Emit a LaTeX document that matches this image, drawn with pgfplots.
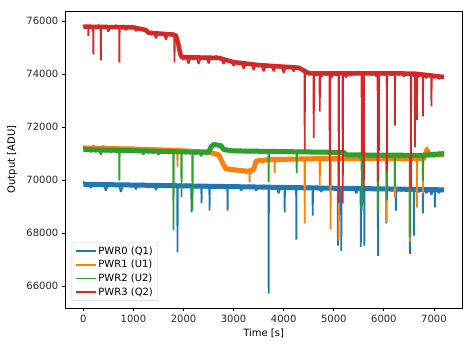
\documentclass[border=0pt]{standalone}
\usepackage{pgfplots}
\usepackage{pgfplotstable}
\usepackage{fontspec}
\setmainfont{DejaVu Sans}
\pgfplotsset{compat=1.18}
\definecolor{C0}{HTML}{1F77B4}
\definecolor{C1}{HTML}{FF7F0E}
\definecolor{C2}{HTML}{2CA02C}
\definecolor{C3}{HTML}{D62728}

% level (core band) of each series
\pgfplotstableread{
x y
0 69840
1000 69810
2000 69780
3000 69750
4000 69720
5000 69690
6000 69665
7200 69630
}\lvlzero
\pgfplotstableread{
x y
0 71210
1000 71170
1800 71120
2500 71050
2700 70960
2780 70650
2850 70420
3300 70330
3400 70400
3450 70720
3700 70770
5000 70820
6800 70810
6830 71000
6860 71150
6900 70950
7200 70950
}\lvlone
\pgfplotstableread{
x y
0 71150
1000 71110
2000 71060
2500 71050
2550 71250
2600 71340
2750 71300
2800 71150
3000 71100
5200 71040
5250 70950
6800 70930
7200 71000
}\lvltwo
\pgfplotstableread{
x y
0 75790
1000 75760
1250 75660
1300 75560
1800 75490
1850 75450
1900 75100
1930 74800
1960 74640
2700 74610
3000 74450
3500 74340
4300 74240
4450 74080
4500 74030
6600 74020
7200 73890
}\lvlthree

\pgfplotstableread{
x y
0 69950
50 69780
100 69900
150 69700
200 69880
250 69760
300 69910
350 69780
400 69890
450 69600
500 69880
550 69760
600 69900
650 69750
700 69880
750 69550
800 69870
850 69760
900 69880
950 69740
1000 69860
1050 69650
1100 69870
1150 69750
1200 69880
1250 69720
1300 69850
1350 69740
1400 69870
1450 69620
1500 69860
1550 69740
1600 69850
1650 69720
1700 69860
1750 69730
1800 69840
1850 69730
1875 69800
1880 67270
1885 69780
1900 69750
1950 69840
2000 69700
2050 69850
2100 69720
2155 69800
2160 68780
2165 69750
2200 69840
2250 69700
2300 69830
2355 69750
2360 69120
2365 69760
2400 69820
2450 69700
2515 69780
2520 68850
2525 69750
2550 69820
2600 69710
2650 69830
2700 69700
2750 69820
2800 69690
2850 69810
2875 69740
2880 68850
2885 69760
2900 69820
2950 69700
3000 69800
3050 69690
3100 69810
3150 69600
3200 69800
3250 69700
3300 69810
3350 69680
3400 69800
3450 69600
3500 69790
3550 69690
3600 69800
3650 69690
3695 69760
3700 65710
3705 69760
3750 69780
3800 69680
3850 69790
3900 69500
3950 69780
4015 69700
4020 68780
4025 69700
4050 69770
4100 69660
4150 69780
4200 69650
4248 69750
4253 67750
4258 69750
4300 69770
4350 69660
4400 69760
4450 69640
4500 69770
4575 69700
4580 68660
4585 69700
4600 69750
4650 69650
4700 69760
4750 69550
4800 69750
4850 69640
4900 69760
4950 69620
5000 69750
5050 69640
5078 69720
5083 67520
5088 69720
5100 69740
5145 69700
5150 67330
5155 69700
5200 69740
5250 69630
5300 69740
5350 69620
5400 69740
5450 69500
5500 69730
5535 69700
5540 67480
5545 69700
5580 69720
5605 69700
5610 67520
5615 69700
5650 69720
5700 69620
5750 69730
5800 69600
5850 69720
5878 69680
5883 67140
5888 69680
5920 69710
5950 69600
6000 69720
6045 69650
6050 68360
6055 69650
6100 69700
6150 69590
6200 69710
6235 69650
6240 68850
6245 69650
6300 69700
6350 69580
6400 69700
6450 69560
6500 69700
6515 69650
6520 67215
6525 69650
6550 69690
6595 69650
6600 67900
6605 69650
6650 69690
6700 69550
6775 69640
6780 68740
6785 69640
6800 69690
6850 69500
6900 69680
6950 69450
7000 69680
7015 69600
7020 68970
7025 69600
7050 69670
7100 69500
7150 69680
7200 69600
}\pwrzero

\pgfplotstableread{
x y
0 71300
50 71150
100 71280
150 71160
200 71320
250 71150
300 71270
350 71140
400 71300
450 71150
500 71260
550 71140
600 71280
650 71130
700 71260
750 71120
800 71250
850 71130
900 71240
950 71120
1000 71250
1050 71100
1100 71230
1150 71100
1200 71220
1250 71090
1300 71230
1350 71080
1400 71200
1450 71080
1500 71220
1550 71070
1600 71190
1650 71060
1700 71200
1750 71050
1800 71180
1850 71050
1875 71150
1880 70490
1885 71100
1900 71150
1950 71040
2000 71170
2050 71030
2100 71160
2150 71020
2200 71150
2250 71000
2300 71140
2350 71000
2400 71130
2450 70990
2500 71100
2550 70980
2600 71050
2650 70900
2700 71000
2750 70880
2780 70600
2800 70450
2850 70350
2900 70500
2950 70320
3000 70450
3050 70300
3100 70420
3150 70280
3200 70400
3250 70250
3300 70380
3315 70300
3320 69920
3325 70350
3350 70250
3400 70400
3430 70600
3450 70780
3500 70650
3550 70800
3600 70680
3650 70820
3700 70700
3750 70830
3800 70720
3815 70800
3820 70260
3825 70780
3850 70840
3900 70700
3950 70850
4000 70720
4050 70850
4100 70730
4150 70860
4200 70740
4250 70860
4300 70750
4350 70870
4400 70760
4415 70850
4420 68360
4425 70800
4450 70870
4500 70740
4550 70870
4600 70750
4650 70880
4700 70760
4715 70850
4720 69800
4725 70800
4750 70880
4800 70760
4850 70890
4900 70770
4930 70850
4935 68130
4940 70800
4950 70880
5000 70770
5050 70890
5095 70800
5100 67710
5105 70820
5150 70880
5200 70760
5250 70890
5300 70770
5350 70880
5400 70750
5450 70870
5500 70760
5550 70880
5600 70750
5650 70870
5700 70760
5750 70880
5800 70750
5850 70860
5900 70740
5950 70870
6000 70760
6045 70850
6050 68420
6055 70800
6100 70870
6150 70750
6215 70860
6220 69350
6225 70800
6250 70860
6300 70740
6350 70860
6400 70750
6450 70850
6500 70740
6515 70800
6520 67680
6525 70820
6550 70860
6600 70750
6655 70850
6660 68970
6665 70800
6700 70860
6750 70760
6775 70850
6780 69500
6785 70800
6800 70900
6830 71100
6860 71250
6880 71050
6900 70880
6950 71000
7000 70870
7050 71000
7100 70880
7150 71020
7200 70900
}\pwrone

\pgfplotstableread{
x y
0 71250
50 71080
100 71220
150 71050
200 71230
250 71060
300 71200
350 70950
400 71210
450 71060
500 71190
550 71040
600 71200
650 71050
700 71180
715 71100
720 69990
725 71100
750 71180
800 71040
850 71190
900 71020
950 71170
1000 71040
1050 71180
1100 71030
1150 71160
1200 70950
1250 71160
1300 71020
1350 71150
1400 71010
1450 71150
1500 70950
1550 71140
1600 71000
1650 71130
1700 70990
1750 71120
1795 71050
1800 68110
1805 71050
1850 71120
1900 71000
1955 71100
1960 69350
1965 71050
2000 71110
2050 70990
2100 71100
2175 71000
2180 68850
2185 71050
2200 71110
2250 70980
2300 71100
2350 70900
2400 71090
2450 70980
2500 71100
2550 71300
2600 71400
2650 71280
2700 71380
2750 71250
2800 71150
2850 71200
2900 71050
2950 71180
3000 71040
3050 71170
3100 71030
3150 71160
3200 71040
3250 71160
3300 71030
3350 71150
3400 71020
3450 71160
3500 71030
3550 71150
3600 71020
3650 71150
3695 71050
3700 69920
3705 71050
3750 71140
3800 71020
3850 71150
3900 71010
3950 71140
4000 71020
4050 71140
4100 71010
4150 71130
4200 71000
4255 71100
4260 70260
4265 71050
4300 71130
4350 71000
4400 71120
4450 71000
4500 71120
4550 70990
4600 71120
4650 71000
4700 71110
4750 70990
4800 71110
4850 70980
4900 71100
4950 70990
5000 71100
5050 70980
5095 71050
5100 69120
5105 71050
5150 71090
5200 70980
5250 70950
5300 70880
5350 71000
5400 70870
5450 71000
5500 70860
5555 70950
5560 68850
5565 70950
5600 70860
5650 71000
5700 70850
5750 70990
5800 70860
5875 70950
5880 68850
5885 70950
5950 70990
6000 70850
6055 70950
6060 69230
6065 70950
6100 70990
6150 70850
6215 70950
6220 69730
6225 70950
6250 70980
6300 70850
6350 70990
6400 70860
6450 70980
6515 70900
6520 67830
6525 70900
6550 70980
6600 70860
6650 70990
6700 70870
6775 70950
6780 69990
6785 70950
6800 71000
6850 70900
6900 71060
6950 70920
7000 71050
7050 70930
7100 71060
7150 70940
7200 71050
}\pwrtwo

\pgfplotstableread{
x y
0 75850
40 75720
60 75820
95 75800
100 75430
105 75790
150 75740
195 75830
200 74745
205 75800
250 75720
300 75850
345 75770
350 74520
355 75810
400 75720
450 75840
500 75600
550 75830
600 75740
650 75850
700 75720
715 75800
720 74440
725 75800
750 75710
800 75850
850 75650
900 75840
950 75730
1000 75800
1050 75620
1100 75760
1150 75650
1200 75740
1250 75580
1300 75600
1350 75480
1400 75590
1450 75350
1500 75580
1550 75470
1600 75570
1650 75300
1700 75560
1750 75460
1790 75520
1815 75470
1820 74440
1825 75420
1850 75480
1880 75330
1900 75100
1930 74800
1960 74660
2000 74540
2050 74650
2100 74400
2150 74660
2200 74540
2250 74670
2300 74380
2350 74650
2400 74550
2450 74680
2500 74400
2550 74660
2600 74560
2650 74690
2700 74560
2750 74620
2800 74380
2850 74560
2900 74460
2950 74530
3000 74300
3050 74500
3100 74380
3150 74480
3200 74200
3250 74450
3300 74340
3350 74420
3400 74150
3450 74400
3500 74290
3550 74380
3600 74100
3650 74360
3700 74260
3750 74350
3800 74100
3850 74340
3900 74240
3950 74330
4000 74050
4050 74320
4100 74220
4150 74310
4200 74100
4250 74290
4300 74200
4350 74180
4400 74060
4415 74100
4420 71130
4425 74080
4450 74080
4500 73980
4550 74060
4595 74000
4600 71590
4605 74020
4650 73950
4715 74050
4720 72580
4725 74000
4750 73880
4800 74060
4850 73960
4900 74040
4915 73980
4920 69800
4925 74050
4950 73850
5000 74030
5050 73950
5095 74020
5100 69160
5105 73980
5150 74040
5175 73950
5180 69120
5185 74000
5250 73880
5300 74040
5350 73930
5400 74090
5450 73990
5500 74100
5555 74000
5560 70940
5565 74050
5595 74020
5600 69690
5605 74080
5650 73980
5700 74100
5750 73950
5800 74080
5850 73900
5875 74060
5880 69920
5885 74000
5895 74050
5900 71100
5905 74000
5950 74070
6000 73960
6055 74050
6060 70300
6065 74000
6100 74080
6150 73950
6215 74060
6220 72050
6225 74000
6250 74060
6300 73960
6350 74070
6400 73900
6450 74050
6500 73950
6535 74030
6540 69610
6545 74000
6600 73920
6615 74000
6620 71250
6625 73980
6655 74000
6660 72270
6665 73960
6700 73900
6750 73990
6775 73880
6780 72400
6785 73970
6850 73850
6900 73960
6945 73860
6950 72780
6955 73900
7000 73860
7050 73900
7100 73820
7150 73900
7200 73900
}\pwrthree

\begin{document}
\begin{tikzpicture}
\begin{axis}[
  scale only axis,
  width=396.7pt, height=297pt,
  xmin=-360, xmax=7560,
  ymin=65170, ymax=76380,
  xtick={0,1000,...,7000},
  ytick={66000,68000,...,76000},
  scaled ticks=false,
  /pgf/number format/.cd, set thousands separator={}, assume math mode=true,
  /pgfplots/.cd,
  tick align=outside,
  xtick pos=bottom, ytick pos=left,
  major tick length=3.5pt,
  every tick/.style={black, line width=0.8pt},
  axis line style={line width=0.8pt},
  tick label style={font=\fontsize{10}{12}\selectfont, text=black!85},
  xlabel={Time [s]},
  ylabel={Output [ADU]},
  label style={font=\fontsize{10}{12}\selectfont},
  every axis x label/.style={at={(axis description cs:0.5,-0.084)}, anchor=center},
  every axis y label/.style={at={(axis description cs:-0.134,0.5)}, anchor=center, rotate=90},
  legend cell align=left,
  legend style={at={(0.016,0.024)}, anchor=south west, draw=black!20, rounded corners=2pt,
    font=\fontsize{10}{12}\selectfont, row sep=0.6pt, inner xsep=3pt, inner ysep=2pt,
    fill=white, fill opacity=0.8, text opacity=1},
  legend image code/.code={\draw[#1, line width=1.6pt] (0pt,0pt) -- (20pt,0pt);},
  every axis plot/.append style={line width=1.8pt, line join=bevel},
]
\addplot[C0, no marks, line width=5pt, forget plot] table[x=x,y=y] {\lvlzero};
\addplot[C0, no marks] table[x=x,y=y] {\pwrzero};
\addlegendentry{PWR0 (Q1)}
\addplot[C1, no marks, line width=5pt, forget plot] table[x=x,y=y] {\lvlone};
\addplot[C1, no marks] table[x=x,y=y] {\pwrone};
\addlegendentry{PWR1 (U1)}
\addplot[C2, no marks, line width=5pt, forget plot] table[x=x,y=y] {\lvltwo};
\addplot[C2, no marks] table[x=x,y=y] {\pwrtwo};
\addlegendentry{PWR2 (U2)}
\addplot[C3, no marks, line width=4.5pt, forget plot] table[x=x,y=y] {\lvlthree};
\addplot[C3, no marks] table[x=x,y=y] {\pwrthree};
\addlegendentry{PWR3 (Q2)}
\end{axis}
\pgfresetboundingbox
\path ([shift={(-65.3pt,-39pt)}]current axis.south west) rectangle ([shift={(11pt,11pt)}]current axis.north east);
\end{tikzpicture}
\end{document}
